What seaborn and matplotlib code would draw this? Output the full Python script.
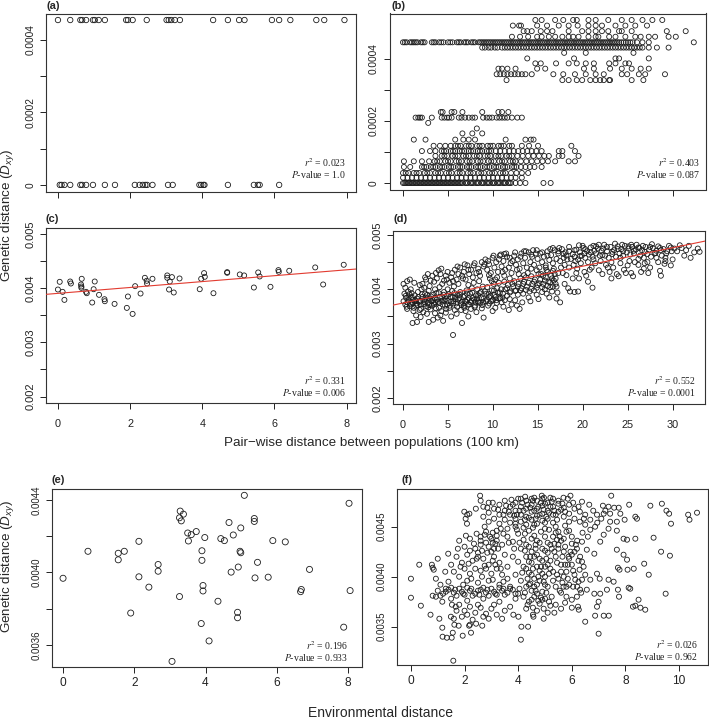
from __future__ import annotations

import matplotlib

matplotlib.use("Agg")
import matplotlib.pyplot as plt
import pandas as pd
import seaborn as sns

W, H = 709, 720

# (a) pair-wise distance vs Dxy, two discrete levels
a_level_top = 0.000455
a_top_x = [0.0, 0.34, 0.62, 0.67, 0.78, 0.97, 1.02, 1.13, 1.30, 1.89, 1.94, 2.07, 2.46, 3.01,
           3.07, 3.14, 3.24, 3.38, 4.30, 4.71, 5.02, 5.17, 5.93, 6.13, 6.44, 7.16, 7.38, 7.94]
a_bottom_x = [0.05, 0.10, 0.18, 0.34, 0.62, 0.67, 0.78, 0.97, 1.30, 1.58, 2.13, 2.26, 2.35, 2.42,
              2.47, 2.62, 3.05, 3.18, 3.92, 3.97, 4.03, 4.06, 4.71, 5.43, 5.54, 5.59, 6.13]

# (b) Dxy levels and the distances observed at each level
b_rows = [
    (0.000526, [14.7, 15.4, 16.9, 17.8, 18.9, 19.3, 20.6, 21.4, 22.8, 24.3, 25.4, 26.6, 27.7, 28.8]),
    (0.000508, [12.2, 12.9, 13.1, 14.9, 16.0, 17.3, 18.4, 19.4, 20.6, 21.4, 22.1, 23.6, 24.7, 25.8, 27.1]),
    (0.000490, [13.4, 13.8, 14.3, 15.3, 16.0, 16.6, 18.4, 19.9, 20.6, 21.4, 22.1, 22.8, 24.0, 24.3,
                25.4, 29.3, 31.4]),
    (0.000472, [12.1, 13.0, 13.9, 14.9, 15.4, 16.2, 16.9, 17.7, 18.4, 18.9, 19.5, 20.6, 21.4, 21.7,
                22.9, 23.6, 24.7, 25.8, 26.4, 27.3, 28.0, 29.5, 30.3]),
    (0.000454, [0.0, 0.4, 0.8, 1.2, 1.6, 2.0, 2.4, 3.2, 3.6, 4.0, 4.5, 5.0, 5.5, 6.0, 6.4, 6.8, 7.2,
                7.6, 8.0, 8.4, 8.8, 9.2, 9.6, 10.0, 10.4, 10.8, 11.2, 11.6, 12.0, 12.4, 12.8, 13.2,
                13.6, 14.0, 14.4, 14.8, 15.2, 15.6, 16.0, 16.4, 16.8, 17.2, 17.6, 18.0, 18.4, 18.8,
                19.2, 19.6, 20.0, 20.4, 20.8, 21.2, 21.6, 22.0, 22.4, 22.8, 23.2, 23.6, 24.0, 24.5,
                25.0, 25.5, 26.0, 26.6, 27.3, 32.3]),
    (0.000454, [0.2, 1.0, 1.4, 2.2, 3.4, 4.25, 5.25, 6.2, 7.0, 7.8, 8.6, 9.0, 9.4, 9.8, 10.2, 10.6,
                11.0, 11.4, 11.8, 12.2, 12.6, 13.0, 13.4, 13.8, 14.2, 14.6, 15.0, 15.4, 15.8, 16.2,
                16.6, 17.0, 17.4, 17.8, 18.2, 18.6, 19.0, 19.4, 19.8, 20.2, 20.6, 21.0, 21.4, 21.8,
                22.2, 22.6, 23.0, 23.4, 23.8, 24.25, 24.75, 25.25]),
    (0.000437, [8.8, 9.5, 10.2, 11.0, 11.6, 12.2, 12.8, 13.4, 14.0, 14.6, 15.2, 15.8, 16.4, 17.0,
                17.6, 18.2, 18.8, 19.4, 20.0, 20.6, 21.2, 21.8, 22.4, 23.0, 23.6, 24.2, 24.8, 25.4,
                26.0, 26.6, 27.3, 28.2, 29.5]),
    (0.000437, [9.1, 9.8, 10.5, 11.3, 11.9, 12.5, 13.1, 13.7, 14.3, 14.9, 15.5, 16.1, 16.7, 17.3,
                17.9, 18.5, 19.1, 19.7, 20.3, 20.9, 21.5, 22.1, 22.7, 23.3, 23.9, 24.5, 25.1, 25.7,
                26.3]),
    (0.000420, [17.9, 20.3, 25.6]),
    (0.000402, [13.8, 19.0, 23.6, 24.0, 27.3]),
    (0.000386, [14.7, 15.3, 17.0, 18.4, 19.3, 20.3, 21.2, 22.9, 23.6, 24.7, 25.1]),
    (0.000369, [10.6, 11.0, 11.6, 12.5, 14.9, 15.8, 20.1, 21.2, 23.0, 24.3, 25.4, 26.4, 27.3]),
    (0.000351, [10.4, 10.8, 11.2, 11.6, 12.0, 12.4, 12.8, 13.2, 13.6, 14.3, 16.7, 17.8, 19.1, 20.3,
                21.4, 22.3, 24.3, 24.9, 26.2, 26.9, 29.1]),
    (0.000332, [11.5, 17.7, 18.4, 19.3, 19.9, 20.8, 21.4, 21.9, 22.3, 22.9, 23.0, 25.4, 26.7]),
    (0.000229, [4.2, 4.4, 5.4, 5.7, 6.6, 8.8, 10.6, 11.0, 11.7]),
    (0.000211, [1.4, 1.7, 2.1, 3.2, 4.3, 4.9, 5.4, 6.2, 6.9, 7.7, 8.0, 8.9, 9.3, 9.9, 10.4, 11.0,
                11.6, 12.1, 12.7, 13.2, 1.9, 4.6, 5.1, 6.5, 7.3, 9.6, 10.7, 11.3]),
    (0.000194, [2.8]),
    (0.000176, [8.2]),
    (0.000160, [6.6, 7.7, 8.8]),
    (0.000140, [1.2, 2.5, 5.8, 6.7, 7.3, 8.0, 11.4, 13.6, 14.2, 14.5]),
    (0.000120, [3.4, 4.1, 4.7, 5.3, 5.8, 6.4, 7.0, 7.6, 8.2, 8.8, 9.4, 10.0, 10.6, 11.2, 11.8, 12.1,
                13.2, 14.0, 15.0, 18.7, 6.1, 7.3, 8.5, 9.7, 10.9]),
    (0.000103, [2.1, 3.0, 3.6, 4.3, 4.8, 5.3, 5.8, 6.3, 6.8, 7.3, 7.8, 8.3, 8.8, 9.3, 9.8, 10.3,
                10.8, 11.3, 11.8, 12.3, 12.8, 13.3, 13.8, 14.3, 14.8, 15.4, 17.3, 17.7, 19.1,
                4.55, 5.55, 6.55, 7.55, 8.55, 9.55]),
    (0.0000873, [3.6, 4.3, 4.9, 5.5, 6.1, 6.7, 7.3, 7.9, 8.5, 9.1, 9.7, 10.3, 10.9, 11.5, 12.1,
                 12.7, 13.3, 13.9, 14.5, 15.1, 15.7, 16.2, 17.3, 17.7, 19.5,
                 4.6, 5.8, 7.0, 8.2, 9.4, 10.6, 11.8]),
    (0.0000700, [0.1, 1.2, 2.1, 2.9, 3.5, 4.1, 4.7, 5.3, 5.9, 6.5, 7.1, 7.7, 8.3, 8.9, 9.5, 10.1,
                 10.7, 11.3, 11.9, 12.5, 13.1, 13.7, 14.3, 14.9, 15.5, 16.1, 16.9, 18.4, 19.1,
                 3.8, 5.0, 6.2, 7.4, 8.6, 9.8, 11.0, 12.2]),
    (0.0000517, [0.1, 0.8, 2.1, 2.6, 3.1, 3.6, 4.1, 4.6, 5.1, 5.6, 6.1, 6.6, 7.1, 7.6, 8.1, 8.6,
                 9.1, 9.6, 10.1, 10.6, 11.1, 11.6, 12.1, 12.6, 13.1, 13.6, 14.1, 14.6, 15.4,
                 2.35, 3.35, 4.35, 5.35, 6.35, 7.35, 8.35, 9.35, 10.35, 11.35, 12.35]),
    (0.0000323, [0.0, 0.6, 1.2, 1.8, 2.4, 3.0, 3.6, 4.2, 4.8, 5.4, 6.0, 6.6, 7.2, 7.8, 8.4, 9.0,
                 9.6, 10.2, 10.8, 11.4, 12.0, 12.6, 13.2, 13.9,
                 0.3, 1.5, 2.7, 3.9, 5.1, 6.3, 7.5, 8.7, 9.9, 11.1]),
    (0.0000172, [0.0, 0.5, 1.0, 1.5, 2.0, 2.5, 3.0, 3.5, 4.0, 4.5, 5.0, 5.5, 6.0, 6.5, 7.0, 7.5,
                 8.0, 8.5, 9.0, 9.5, 10.0, 10.5, 11.0, 11.5, 12.0, 12.5, 13.2]),
    (0.0, [0.0, 0.3, 0.6, 0.9, 1.2, 1.5, 1.8, 2.1, 2.4, 2.7, 3.0, 3.3, 3.6, 3.9, 4.2, 4.5, 4.8,
           5.1, 5.4, 5.7, 6.0, 6.3, 6.6, 6.9, 7.2, 7.5, 7.8, 8.1, 8.4, 8.7, 9.0, 9.3, 9.6, 9.9,
           10.2, 10.5, 10.8, 11.1, 11.4, 11.7, 12.0, 12.5, 13.0, 13.6, 15.6, 16.4]),
    (0.0, [0.15, 0.45, 0.75, 1.05, 1.35, 1.65, 1.95, 2.25, 2.55, 2.85, 3.15, 3.45, 3.75, 4.05,
           4.35, 4.65, 4.95, 5.25, 5.55, 5.85, 6.15, 6.45, 7.05, 7.65, 8.25, 8.85, 9.45, 10.05,
           10.65, 11.25, 11.85]),
]

# (c) pair-wise distance (100 km), Dxy
c_points = [
    (0.00, .003975), (0.05, .004117), (0.13, .003932), (0.18, .003784), (0.34, .004123),
    (0.36, .004086), (0.64, .004068), (0.65, .004031), (0.66, .004173), (0.65, .004006),
    (0.78, .003932), (0.80, .003907), (0.95, .003735), (0.99, .003981), (1.02, .004123),
    (1.14, .003877), (1.29, .003796), (1.30, .003759), (1.57, .003710), (1.91, .003636),
    (1.94, .003846), (2.07, .003525), (2.14, .004037), (2.29, .003901), (2.41, .004191),
    (2.46, .004136), (2.47, .004086), (2.62, .004173), (3.03, .004235), (3.03, .004191),
    (3.10, .004123), (3.08, .003975), (3.16, .004204), (3.21, .003920), (3.37, .004179),
    (3.93, .003981), (3.97, .004173), (4.05, .004278), (4.07, .004210), (4.31, .003907),
    (4.69, .004296), (4.69, .004284), (5.04, .004253), (5.16, .004235), (5.43, .004012),
    (5.55, .004290), (5.59, .004216), (5.89, .004025), (6.11, .004333), (6.12, .004302),
    (6.41, .004321), (7.13, .004383), (7.35, .004068), (7.92, .004432),
]

# (d) pair-wise distance (100 km), Dxy
d_points = [
    (0.1, .00410), (0.3, .00403), (0.5, .00415), (0.8, .00418), (0.2, .00392), (0.6, .00396),
    (0.9, .00400), (0.1, .00378), (0.4, .00384), (0.7, .00380), (1.0, .00386), (0.3, .00372),
    (0.8, .00369), (1.1, .00375), (0.5, .00364), (1.2, .00360), (1.0, .00393), (1.3, .00412),
    (1.4, .00380), (1.5, .00370),
    (1.6, .00383), (1.8, .00377), (2.0, .00372), (2.2, .00386), (2.4, .00380), (2.6, .00369),
    (2.8, .00375), (3.0, .00383), (1.7, .00395), (2.1, .00400), (2.5, .00392), (2.9, .00397),
    (1.9, .00362), (2.3, .00358), (2.7, .00355), (3.1, .00363), (1.5, .00352), (2.0, .00349),
    (1.1, .00338), (1.6, .00340), (2.9, .00340), (3.4, .00344), (3.9, .00348), (4.5, .00342),
    (2.2, .00410), (2.6, .00418), (3.0, .00406), (3.3, .00425), (2.8, .00428), (3.5, .00414),
    (2.4, .00403), (1.9, .00408),
    (3.2, .00378), (3.5, .00372), (3.8, .00381), (4.1, .00375), (4.4, .00385), (4.7, .00370),
    (5.0, .00379), (5.3, .00386), (5.6, .00374), (5.9, .00382), (3.4, .00390), (3.7, .00365),
    (4.0, .00393), (4.3, .00360), (4.6, .00395), (4.9, .00388), (5.2, .00366), (5.5, .00397),
    (5.8, .00362), (6.1, .00390), (3.6, .00356), (4.2, .00352), (4.8, .00357), (5.4, .00350),
    (6.0, .00355), (3.6, .00400), (4.1, .00404), (5.0, .00400), (5.7, .00405),
    (3.8, .00420), (4.2, .00428), (4.6, .00416), (5.0, .00432), (5.4, .00422), (5.8, .00436),
    (6.2, .00428), (4.0, .00435), (4.8, .00425), (5.6, .00415), (6.0, .00418), (4.4, .00410),
    (5.2, .00412), (5.6, .00316), (6.6, .00338), (7.3, .00350), (9.0, .00348),
    (6.3, .00384), (6.6, .00377), (6.9, .00388), (7.2, .00381), (7.5, .00392), (7.8, .00384),
    (8.1, .00376), (8.4, .00389), (8.7, .00395), (9.0, .00383), (6.4, .00395), (6.8, .00370),
    (7.1, .00398), (7.4, .00372), (7.7, .00402), (8.0, .00367), (8.3, .00400), (8.6, .00375),
    (8.9, .00405), (6.5, .00362), (7.0, .00360), (7.6, .00364), (8.2, .00358), (8.8, .00365),
    (6.4, .00440), (6.8, .00432), (7.2, .00444), (7.6, .00436), (8.0, .00448), (8.4, .00438),
    (8.8, .00450), (6.6, .00425), (7.0, .00418), (7.4, .00428), (7.8, .00422), (8.2, .00430),
    (8.6, .00425), (9.0, .00442), (6.9, .00446), (7.9, .00412), (8.5, .00415), (6.2, .00410),
    (7.3, .00408),
    (9.3, .00392), (9.6, .00386), (9.9, .00398), (10.2, .00390), (10.5, .00402), (10.8, .00394),
    (11.1, .00385), (11.4, .00400), (11.7, .00408), (12.0, .00396), (9.4, .00404), (9.8, .00378),
    (10.1, .00410), (10.4, .00380), (10.7, .00412), (11.0, .00376), (11.3, .00414), (11.6, .00388),
    (11.9, .00382), (9.5, .00370), (10.3, .00366), (11.2, .00368), (12.1, .00372), (10.0, .00360),
    (11.8, .00362),
    (9.2, .00455), (9.6, .00446), (10.0, .00458), (10.4, .00450), (10.8, .00462), (11.2, .00452),
    (11.6, .00460), (12.0, .00448), (9.4, .00436), (9.8, .00430), (10.2, .00440), (10.6, .00432),
    (11.0, .00442), (11.4, .00436), (11.8, .00440), (9.7, .00420), (10.5, .00422), (11.3, .00425),
    (12.1, .00430), (10.9, .00464), (11.5, .00466), (9.9, .00415),
    (12.3, .00405), (12.6, .00398), (12.9, .00410), (13.2, .00402), (13.5, .00414), (13.8, .00405),
    (14.1, .00396), (14.4, .00410), (14.7, .00418), (15.0, .00408), (12.4, .00415), (12.8, .00390),
    (13.1, .00420), (13.4, .00392), (13.7, .00422), (14.0, .00385), (14.3, .00424), (14.6, .00398),
    (14.9, .00390), (12.5, .00380), (13.3, .00376), (14.2, .00378), (12.7, .00370), (13.0, .00364),
    (12.4, .00462), (12.8, .00455), (13.2, .00466), (13.6, .00458), (14.0, .00468), (14.4, .00460),
    (14.8, .00466), (12.6, .00445), (13.0, .00438), (13.4, .00448), (13.8, .00440), (14.2, .00450),
    (14.6, .00445), (15.0, .00456), (12.2, .00452), (13.9, .00430), (14.9, .00435), (12.9, .00428),
    (13.5, .00470), (14.5, .00472),
    (15.3, .00418), (15.6, .00410), (15.9, .00422), (16.2, .00414), (16.5, .00425), (16.8, .00416),
    (17.1, .00405), (15.4, .00428), (15.8, .00400), (16.1, .00432), (16.4, .00404), (16.7, .00434),
    (17.0, .00420), (15.5, .00395), (16.0, .00392), (16.6, .00396), (17.2, .00394), (17.1, .00383),
    (17.5, .00376), (18.6, .00396), (19.1, .00395), (19.5, .00396), (20.6, .00414), (21.1, .00403),
    (18.0, .00410), (18.4, .00402), (16.3, .00385), (15.1, .00382),
    (15.3, .00466), (15.7, .00460), (16.1, .00470), (16.5, .00463), (16.9, .00472), (17.3, .00466),
    (17.7, .00474), (18.1, .00468), (15.5, .00450), (15.9, .00444), (16.3, .00454), (16.7, .00448),
    (17.1, .00456), (17.5, .00452), (17.9, .00458), (18.3, .00455), (15.2, .00440), (16.0, .00435),
    (16.8, .00438), (17.6, .00440), (18.0, .00445), (16.4, .00474), (17.4, .00476), (15.6, .00425),
    (16.9, .00428), (17.8, .00430), (18.2, .00426), (18.5, .00440),
    (18.5, .00470), (18.9, .00465), (19.3, .00473), (19.7, .00468), (20.1, .00476), (20.5, .00470),
    (20.9, .00477), (21.3, .00471), (21.7, .00475), (18.7, .00456), (19.1, .00460), (19.5, .00455),
    (19.9, .00462), (20.3, .00458), (20.7, .00464), (21.1, .00460), (21.5, .00466), (21.9, .00462),
    (19.0, .00445), (19.8, .00448), (20.6, .00450), (21.4, .00448), (22.0, .00452), (19.4, .00438),
    (20.2, .00432), (21.0, .00440), (21.8, .00435), (20.4, .00425), (19.6, .00420), (22.2, .00428),
    (20.0, .00480), (21.2, .00480), (18.9, .00420), (19.3, .00430),
    (22.3, .00475), (22.7, .00470), (23.1, .00478), (23.5, .00472), (23.9, .00479), (24.3, .00474),
    (24.7, .00480), (25.1, .00475), (25.5, .00478), (25.9, .00473), (22.5, .00462), (22.9, .00458),
    (23.3, .00465), (23.7, .00460), (24.1, .00466), (24.5, .00462), (24.9, .00468), (25.3, .00464),
    (25.7, .00466), (22.6, .00445), (23.4, .00440), (24.2, .00448), (25.0, .00444), (25.8, .00450),
    (23.0, .00432), (23.8, .00428), (24.6, .00436), (25.4, .00430), (24.0, .00424), (25.6, .00424),
    (23.2, .00420), (22.4, .00482), (24.4, .00482),
    (26.2, .00477), (26.6, .00472), (27.0, .00478), (27.4, .00473), (27.8, .00476), (28.2, .00471),
    (28.6, .00476), (29.0, .00474), (29.4, .00470), (26.4, .00462), (26.8, .00458), (27.2, .00465),
    (27.6, .00460), (28.0, .00466), (28.8, .00462), (29.2, .00458), (26.2, .00445), (26.9, .00448),
    (27.5, .00440), (28.4, .00450), (29.1, .00447), (26.5, .00432), (27.3, .00430), (28.6, .00434),
    (30.0, .00455), (30.2, .00475), (30.5, .00470), (31.0, .00476), (31.8, .00480), (32.4, .00468),
    (33.0, .00469), (32.0, .00458), (26.0, .00482), (27.7, .00483), (29.6, .00480),
    # denser lower band
    (0.35, .00388), (0.55, .00376), (0.75, .00391), (0.95, .00372), (1.15, .00381), (1.35, .00389),
    (1.55, .00374), (1.75, .00386), (1.95, .00379), (2.15, .00391), (2.35, .00373), (2.55, .00385),
    (2.75, .00390), (2.95, .00371), (3.15, .00387), (3.35, .00380), (3.55, .00384), (3.75, .00393),
    (3.95, .00377), (4.15, .00386), (4.35, .00379), (4.55, .00390), (4.75, .00382), (4.95, .00372),
    (5.15, .00391), (5.35, .00377), (5.55, .00386), (5.75, .00393), (5.95, .00374), (6.15, .00381),
    (6.35, .00390), (6.55, .00371), (6.75, .00386), (6.95, .00379), (7.15, .00392), (7.35, .00384),
    (7.55, .00376), (7.75, .00394), (7.95, .00381), (8.15, .00389), (8.35, .00378), (8.55, .00393),
    (8.75, .00385), (8.95, .00376), (9.15, .00396), (9.35, .00381), (9.55, .00392), (9.75, .00388),
    (9.95, .00379), (10.15, .00398), (10.35, .00386), (10.55, .00394), (10.75, .00383),
    (10.95, .00400), (11.15, .00392), (11.35, .00380),
    (0.45, .00368), (0.85, .00374), (1.25, .00366), (1.65, .00371), (2.05, .00364), (2.45, .00376),
    (2.85, .00367), (3.25, .00370), (3.65, .00376), (4.05, .00366), (4.45, .00372), (4.85, .00364),
    (5.25, .00370), (5.65, .00378), (6.05, .00368), (6.45, .00374), (6.85, .00366), (7.25, .00372),
    (7.65, .00379), (8.05, .00370), (8.45, .00376), (8.85, .00371), (9.25, .00378), (9.65, .00374),
    (10.05, .00381), (10.45, .00375), (10.85, .00384), (0.65, .00385), (1.45, .00378),
    (2.65, .00381), (3.45, .00375), (4.65, .00379), (5.85, .00385), (7.05, .00377), (8.25, .00383),
    (11.6, .00402), (11.9, .00394), (12.2, .00410), (12.5, .00397), (12.8, .00405), (13.1, .00398),
    (13.4, .00410), (13.7, .00399), (14.0, .00412), (14.3, .00401), (14.6, .00414), (14.9, .00403),
    (15.2, .00411), (15.5, .00404), (15.8, .00416), (16.1, .00406), (16.4, .00413), (16.7, .00405),
    (17.0, .00410),
    # denser upper band
    (9.5, .00452), (10.1, .00462), (10.7, .00455), (11.3, .00465), (11.9, .00458), (12.5, .00468),
    (13.1, .00460), (13.7, .00470), (14.3, .00464), (14.9, .00472), (15.5, .00468), (16.1, .00462),
    (16.7, .00476), (17.3, .00470), (17.9, .00465), (18.5, .00478), (19.1, .00472), (19.7, .00461),
    (20.3, .00474), (20.9, .00468), (21.5, .00479), (22.1, .00471), (22.7, .00478), (23.3, .00469),
    (23.9, .00474), (24.5, .00470), (25.1, .00479), (25.7, .00471), (26.3, .00476), (26.9, .00469),
    (27.5, .00478), (28.1, .00467), (28.7, .00472), (29.3, .00466), (29.9, .00470),
    (25.4, .00482), (26.7, .00480), (28.4, .00479), (29.8, .00477), (30.8, .00481), (31.5, .00472),
    (32.8, .00475), (23.6, .00484), (21.8, .00482), (19.6, .00481),
    (2.5, .00422), (3.1, .00416), (3.7, .00430), (4.3, .00438), (4.9, .00418), (5.5, .00430),
    (6.1, .00442), (6.7, .00420), (7.3, .00436), (7.9, .00444), (8.5, .00432), (9.1, .00446),
    (9.6, .00426), (10.3, .00418), (11.1, .00432), (11.9, .00420), (12.7, .00436), (13.5, .00426),
    (14.3, .00438), (15.1, .00428), (15.9, .00440), (16.6, .00420), (17.3, .00430),
    (18.2, .00462), (19.2, .00452), (20.2, .00466), (21.2, .00455), (22.2, .00463), (23.2, .00450),
    (24.2, .00458), (25.2, .00452), (26.2, .00456), (27.2, .00450), (28.2, .00458), (29.2, .00452),
    (20.8, .00436), (22.8, .00440), (24.8, .00430), (26.8, .00438), (29.8, .00444), (31.3, .00462),
    (28.7, .00425),
]

# (e) environmental distance, Dxy
e_points = [
    (0.00, .003968), (0.70, .004117), (1.55, .004106), (1.55, .004070), (1.72, .004117),
    (2.13, .004172), (2.13, .003976), (1.90, .003776), (2.41, .003919), (2.67, .004044),
    (2.67, .004007), (3.27, .003867), (3.29, .004339), (3.38, .004322), (3.27, .004302),
    (3.32, .004285), (3.50, .004218), (3.60, .004209), (3.52, .004174), (3.74, .004226),
    (3.90, .004120), (3.90, .004067), (3.98, .004193), (3.93, .003928), (3.93, .003898),
    (4.35, .003841), (4.43, .004187), (4.53, .004176), (4.66, .004276), (4.72, .004002),
    (4.78, .004207), (4.92, .004030), (4.97, .004117), (4.99, .004109), (4.99, .004246),
    (5.09, .004426), (4.90, .003780), (4.90, .003750), (5.37, .004298), (5.37, .004282),
    (5.46, .004056), (5.39, .003970), (5.76, .003974), (5.89, .004176), (6.24, .004169),
    (6.69, .003906), (6.67, .003894), (6.92, .004017), (8.03, .004382), (8.06, .003900),
    (3.88, .003718), (4.10, .003622), (3.06, .003509), (7.88, .003698),
]

# (f) environmental distance, Dxy
f_points = [
    (0.0, .00398), (0.0, .00379), (0.31, .00412), (0.37, .00371), (0.73, .00362), (0.78, .00412),
    (0.81, .00409), (0.85, .00407), (1.0, .00418), (0.93, .00398), (1.06, .00358), (1.17, .00349),
    (1.18, .00340), (1.28, .00405), (1.39, .00423), (1.49, .00360), (1.34, .00339), (1.52, .00339),
    (1.56, .00344), (1.58, .00316), (1.62, .00352), (1.78, .00351), (1.93, .00341), (2.24, .00344),
    (2.17, .00351), (2.43, .00353), (2.66, .00351), (0.81, .00381), (0.93, .00380), (1.17, .00375),
    (1.53, .00372), (1.67, .00370), (1.99, .00465), (2.10, .00462), (2.18, .00463), (2.09, .00453),
    (2.04, .00458), (2.58, .00481), (2.60, .00476), (2.42, .00468),
    (4.26, .00480), (4.88, .00481), (4.96, .00479), (5.69, .00479), (5.95, .00481), (6.38, .00475),
    (7.47, .00481), (8.14, .00472), (7.16, .00471), (7.37, .00470), (7.58, .00469), (7.75, .00469),
    (7.19, .00463), (7.43, .00463), (7.97, .00457), (8.37, .00460), (8.43, .00458), (8.93, .00471),
    (9.36, .00473), (9.53, .00466), (9.63, .00463), (9.70, .00453), (10.34, .00462), (10.39, .00457),
    (10.67, .00464), (9.05, .00439), (9.33, .00425), (9.66, .00421), (9.50, .00383), (8.87, .00402),
    (8.70, .00413), (8.31, .00408), (8.06, .00417), (8.08, .00407), (7.72, .00409), (7.78, .00407),
    (7.93, .00422), (7.68, .00427), (7.93, .00438), (8.06, .00437), (8.37, .00438), (7.68, .00446),
    (7.37, .00448), (8.12, .00389), (8.18, .00388), (7.72, .00387), (7.76, .00380), (8.28, .00370),
    (8.37, .00371), (8.56, .00369), (8.74, .00367), (8.49, .00377), (7.00, .00343), (6.50, .00355),
    (6.87, .00361), (7.19, .00361), (7.38, .00361), (6.94, .00370), (7.00, .00375), (6.84, .00383),
    (7.06, .00383), (7.31, .00387), (7.37, .00397), (7.56, .00395), (6.94, .00403), (7.04, .00398),
    (6.38, .00397), (6.31, .00387), (6.23, .00370), (6.26, .00367), (6.00, .00377), (6.00, .00369),
    (6.56, .00427), (6.84, .00423), (7.06, .00435), (7.19, .00442), (6.29, .00407), (6.38, .00415),
    (6.19, .00428), (4.10, .00337), (4.12, .00350), (4.37, .00350), (3.82, .00362), (4.01, .00360),
    (4.57, .00360),
    (6.69, .00457), (6.94, .00462), (6.69, .00447), (7.43, .00455), (7.68, .00455), (7.81, .00463),
    (6.87, .00450), (6.00, .00433), (6.38, .00435), (5.88, .00420), (6.31, .00420), (5.75, .00412),
    (6.44, .00410), (6.13, .00397), (5.69, .00390), (6.19, .00380), (6.56, .00387), (6.69, .00397),
    (6.50, .00402),
    (2.7, .00470), (2.7, .00460), (2.9, .00474), (2.9, .00464), (2.9, .00455), (3.1, .00468),
    (3.1, .00458), (3.3, .00472), (3.3, .00462), (3.3, .00453), (3.5, .00476), (3.5, .00466),
    (3.5, .00457), (3.7, .00470), (3.7, .00462), (3.7, .00454), (3.9, .00474), (3.9, .00466),
    (3.9, .00458), (3.9, .00450), (4.1, .00470), (4.1, .00462), (4.1, .00455), (4.3, .00476),
    (4.3, .00468), (4.3, .00460), (4.3, .00452), (4.5, .00472), (4.5, .00465), (4.5, .00457),
    (4.7, .00476), (4.7, .00468), (4.7, .00461), (4.7, .00453), (4.9, .00471), (4.9, .00463),
    (4.9, .00456), (5.1, .00474), (5.1, .00466), (5.1, .00458), (5.3, .00470), (5.3, .00462),
    (5.3, .00454), (5.5, .00473), (5.5, .00465), (5.7, .00469), (5.7, .00460), (5.9, .00472),
    (5.9, .00463), (5.9, .00455), (6.1, .00468), (6.1, .00458), (6.3, .00465), (6.3, .00455),
    (6.5, .00462), (6.5, .00452), (6.8, .00466), (7.1, .00458), (4.0, .00478), (4.6, .00479),
    (5.2, .00479), (3.6, .00448), (4.4, .00446), (5.0, .00448),
    (2.8, .00445), (3.0, .00438), (3.2, .00446), (3.4, .00432), (3.6, .00440), (3.8, .00435),
    (4.0, .00443), (4.2, .00437), (4.4, .00430), (4.6, .00441), (4.8, .00434), (5.0, .00440),
    (5.2, .00432), (5.4, .00444), (5.6, .00436), (5.8, .00445), (6.0, .00440), (2.6, .00432),
    (3.1, .00428), (4.5, .00425), (5.5, .00428),
    (1.8, .00436), (2.0, .00430), (2.2, .00438), (2.4, .00428), (2.6, .00440), (2.8, .00434),
    (3.0, .00425), (3.2, .00436), (1.7, .00420), (1.9, .00414), (2.1, .00422), (2.3, .00416),
    (2.5, .00424), (2.7, .00418), (2.9, .00412), (3.1, .00420), (3.3, .00414), (3.5, .00422),
    (1.6, .00405), (1.8, .00400), (2.0, .00408), (2.2, .00403), (2.4, .00408), (2.6, .00406),
    (2.8, .00408), (3.0, .00403), (3.2, .00408), (3.4, .00402), (2.1, .00396), (2.5, .00394),
    (2.9, .00396), (3.3, .00392), (3.6, .00398), (1.5, .00412), (1.4, .00395), (1.3, .00388),
    (1.1, .00392),
    (1.0, .00386), (1.2, .00383), (1.4, .00387), (1.6, .00384), (1.8, .00388), (2.0, .00382),
    (2.2, .00386), (2.4, .00383), (2.6, .00387), (2.8, .00384), (3.0, .00388), (3.2, .00382),
    (3.4, .00386), (3.6, .00384), (3.8, .00387), (4.0, .00383), (1.5, .00378), (2.1, .00376),
    (2.7, .00378), (3.3, .00375), (3.9, .00378),
    (1.8, .00372), (2.0, .00366), (2.2, .00370), (2.4, .00364), (2.6, .00369), (2.8, .00363),
    (3.0, .00368), (1.9, .00360), (2.3, .00357), (2.9, .00358), (3.2, .00362), (3.5, .00366),
    (3.7, .00370),
    (4.1, .00428), (4.3, .00420), (4.5, .00414), (4.7, .00422), (4.9, .00416), (5.1, .00424),
    (4.2, .00410), (4.4, .00404), (4.6, .00398), (4.8, .00406), (5.0, .00400), (5.2, .00408),
    (4.0, .00415), (4.1, .00396), (4.3, .00390), (4.5, .00386), (4.7, .00392), (4.9, .00385),
    (5.1, .00390), (5.3, .00396), (4.2, .00380), (4.4, .00375), (4.6, .00380), (4.8, .00373),
    (5.0, .00378), (5.2, .00371), (4.3, .00368), (4.7, .00366), (5.1, .00364), (5.4, .00372),
    (5.6, .00368), (3.9, .00402), (3.8, .00420), (3.6, .00410), (3.7, .00390),
    (5.3, .00440), (5.5, .00432), (5.7, .00425), (5.9, .00418), (5.4, .00420), (5.6, .00412),
    (5.8, .00405), (6.0, .00412), (5.3, .00405), (5.5, .00398), (5.7, .00400), (5.9, .00392),
    (6.1, .00402), (5.4, .00390), (5.6, .00384), (5.8, .00380), (6.2, .00390), (6.1, .00425),
    (6.2, .00436), (6.4, .00444), (6.6, .00440), (5.2, .00416), (5.0, .00410),
    # denser cores
    (3.55, .00471), (3.75, .00477), (3.85, .00461), (4.05, .00466), (4.15, .00474), (4.25, .00457),
    (4.45, .00469), (4.55, .00476), (4.65, .00458), (4.85, .00474), (4.95, .00467), (5.05, .00460),
    (5.25, .00475), (5.35, .00466), (5.45, .00457), (5.65, .00473), (5.75, .00465), (5.85, .00478),
    (3.45, .00462), (3.25, .00467), (3.05, .00474), (2.85, .00469), (6.05, .00474), (6.25, .00470),
    (6.45, .00458), (6.65, .00472), (6.95, .00454), (7.25, .00466),
    (3.65, .00465), (3.8, .00472), (3.95, .00462), (4.1, .00478), (4.2, .00466), (4.35, .00472),
    (4.4, .00459), (4.6, .00466), (4.75, .00470), (4.8, .00462), (5.0, .00473), (5.15, .00464),
    (5.2, .00470), (5.4, .00462), (5.5, .00476), (5.6, .00467), (4.5, .00478), (4.9, .00478),
    (5.3, .00478), (3.9, .00453), (4.2, .00449), (4.6, .00452), (5.0, .00454), (5.4, .00450),
    (2.75, .00450), (3.05, .00444), (3.35, .00448), (3.65, .00434), (3.95, .00447), (4.25, .00443),
    (4.55, .00449), (4.85, .00445), (5.15, .00447), (5.45, .00437), (5.75, .00451), (3.15, .00433),
    (3.85, .00428), (4.65, .00432), (5.35, .00425),
    (1.75, .00428), (2.05, .00441), (2.35, .00433), (2.65, .00426), (2.95, .00440), (3.25, .00428),
    (3.45, .00443), (1.85, .00410), (2.15, .00413), (2.45, .00418), (2.75, .00411), (3.05, .00416),
    (3.35, .00408), (2.25, .00398), (2.65, .00400), (3.05, .00397), (3.45, .00395), (1.95, .00392),
    (2.45, .00443), (2.6, .00436), (2.75, .00442), (2.9, .00430), (3.05, .00434), (3.2, .00441),
    (2.2, .00426), (2.5, .00420), (2.85, .00424), (3.15, .00412),
    (1.1, .00381), (1.3, .00385), (1.5, .00389), (1.7, .00381), (1.9, .00385), (2.1, .00389),
    (2.3, .00381), (2.5, .00386), (2.7, .00389), (2.9, .00381), (3.1, .00385), (3.3, .00389),
    (3.5, .00382), (3.7, .00388), (3.9, .00383),
    (1.65, .00387), (1.95, .00383), (2.25, .00388), (2.55, .00382), (2.85, .00387), (3.15, .00383),
    (3.45, .00388),
    (1.7, .00366), (2.1, .00362), (2.5, .00372), (2.7, .00360), (3.1, .00372), (3.4, .00358),
    (1.6, .00358), (2.2, .00352),
    (4.05, .00434), (4.25, .00426), (4.45, .00420), (4.65, .00428), (4.85, .00410), (5.05, .00418),
    (5.25, .00428), (4.15, .00404), (4.35, .00398), (4.55, .00408), (4.75, .00400), (4.95, .00395),
    (5.15, .00403), (4.05, .00388), (4.25, .00384), (4.45, .00393), (4.65, .00386), (4.85, .00379),
    (5.05, .00384), (5.25, .00380), (4.35, .00372), (4.55, .00369), (4.75, .00376), (4.95, .00368),
    (5.15, .00375), (4.55, .00362), (4.95, .00358), (5.35, .00364),
    (4.3, .00432), (4.5, .00438), (4.7, .00436), (4.9, .00428), (5.1, .00434), (4.4, .00415),
    (4.6, .00420), (4.8, .00418), (5.0, .00426), (4.3, .00408), (4.5, .00402), (4.7, .00410),
    (4.9, .00403), (5.1, .00412), (4.4, .00392), (4.6, .00390), (4.8, .00396), (5.0, .00392),
    (4.5, .00377), (4.7, .00383), (4.9, .00377),
    (5.35, .00433), (5.55, .00440), (5.75, .00430), (5.95, .00425), (6.15, .00432), (5.45, .00414),
    (5.65, .00420), (5.85, .00412), (6.05, .00406), (6.25, .00416), (5.45, .00402), (5.65, .00394),
    (5.85, .00398), (6.05, .00390), (5.55, .00386), (5.75, .00374), (6.25, .00395), (6.35, .00384),
    (5.5, .00445), (5.7, .00438), (5.9, .00446), (6.0, .00422), (5.6, .00405), (5.8, .00390),
]

r2_values = ["0.023", "0.403", "0.331", "0.552", "0.196", "0.026"]
p_values = ["1.0", "0.087", "0.006", "0.0001", "0.933", "0.962"]
panel_names = ["(a)", "(b)", "(c)", "(d)", "(e)", "(f)"]

EDGE = "#1c1c1c"
RED = "#e23b30"


def to_frame(pairs):
    return pd.DataFrame(pairs, columns=["x", "y"])


def fig_xy(px, py):
    return px / W, 1 - py / H


def make_axes(fig, left, right, top, bottom):
    x0, y0 = fig_xy(left, bottom)
    return fig.add_axes([x0, y0, (right - left) / W, (bottom - top) / H])


def circles(ax, df, size=13):
    sns.scatterplot(data=df, x="x", y="y", ax=ax, s=size, facecolors="none",
                    edgecolor=EDGE, linewidth=0.6, legend=False, zorder=2)


def fit_line(ax, df):
    sns.regplot(data=df, x="x", y="y", ax=ax, scatter=False, ci=None, truncate=False,
                line_kws={"color": RED, "linewidth": 0.8, "zorder": 3})


def style_axes(ax, xlim, ylim, xticks, yticks, ylabels, xlabels=True, xsize=7.8, ysize=7.3, xpad=3):
    ax.set_xlim(xlim)
    ax.set_ylim(ylim)
    ax.set_xticks(xticks)
    ax.set_xticklabels([f"{t:g}" for t in xticks] if xlabels else [])
    ax.set_yticks(yticks)
    ax.set_yticklabels(ylabels, rotation=90, va="center")
    ax.set_xlabel("")
    ax.set_ylabel("")
    ax.tick_params(axis="x", labelsize=xsize, length=4.5, width=0.7, pad=xpad, colors="#222")
    ax.tick_params(axis="y", labelsize=ysize, length=4.5, width=0.7, pad=3, colors="#222")
    for spine in ax.spines.values():
        spine.set_visible(True)
        spine.set_linewidth(0.8)
        spine.set_color("#333")


def stat_text(fig, px, py, r2, pval):
    kw = dict(ha="right", va="center", fontsize=7, family="Liberation Serif",
              math_fontfamily="stix", color="#222")
    fig.text(*fig_xy(px, py), f"$r^2$ = {r2}", **kw)
    fig.text(*fig_xy(px, py + 11.5), f"$P$-value = {pval}", **kw)


def main() -> None:
    sns.set_style("ticks")
    plt.rcParams["font.family"] = ["Liberation Sans", "DejaVu Sans"]
    plt.rcParams["mathtext.fontset"] = "custom"
    plt.rcParams["mathtext.rm"] = "Liberation Sans"
    plt.rcParams["mathtext.it"] = "Liberation Sans:italic"

    fig = plt.figure(figsize=(W / 100, H / 100), dpi=100)
    fig.patch.set_facecolor("white")

    # (a)
    a_df = to_frame([(x, a_level_top) for x in a_top_x] + [(x, 0.0) for x in a_bottom_x])
    ax_a = make_axes(fig, 45.7, 356, 13.5, 191.5)
    circles(ax_a, a_df, size=15)
    y4 = [0, 0.0001, 0.0002, 0.0003, 0.0004]
    style_axes(ax_a, (-0.34, 8.26), (-0.0000182, 0.000473), [0, 2, 4, 6, 8], y4,
               ["0", "", "0.0002", "", "0.0004"], xlabels=False)

    # (b)
    b_df = to_frame([(x, level) for level, xs in b_rows for x in xs])
    ax_b = make_axes(fig, 389.5, 705.5, 13.5, 189.5)
    circles(ax_b, b_df)
    style_axes(ax_b, (-1.5, 33.6), (-0.000021, 0.000547), [0, 5, 10, 15, 20, 25, 30], y4,
               ["0", "", "0.0002", "", "0.0004"], xlabels=False)

    y5 = [0.002, 0.0025, 0.003, 0.0035, 0.004, 0.0045, 0.005]
    y5_labels = ["0.002", "", "0.003", "", "0.004", "", "0.005"]

    # (c)
    c_df = to_frame(c_points)
    ax_c = make_axes(fig, 46, 356, 227.5, 403)
    ax_c.set_xlim(-0.33, 8.26)
    fit_line(ax_c, c_df)
    circles(ax_c, c_df)
    style_axes(ax_c, (-0.33, 8.26), (0.00188, 0.00512), [0, 2, 4, 6, 8], y5, y5_labels,
               ysize=8, xpad=7)

    # (d)
    d_df = to_frame(d_points)
    ax_d = make_axes(fig, 393, 705, 231, 404)
    ax_d.set_xlim(-1.07, 33.6)
    fit_line(ax_d, d_df)
    circles(ax_d, d_df)
    style_axes(ax_d, (-1.07, 33.6), (0.00189, 0.005073), [0, 5, 10, 15, 20, 25, 30], y5, y5_labels,
               ysize=8, xpad=7)

    # (e)
    e_df = to_frame(e_points)
    ax_e = make_axes(fig, 52, 361.5, 489, 667)
    circles(ax_e, e_df, size=19)
    style_axes(ax_e, (-0.31, 8.38), (0.003478, 0.004461), [0, 2, 4, 6, 8],
               [0.0036, 0.0038, 0.0040, 0.0042, 0.0044], ["0.0036", "", "0.0040", "", "0.0044"],
               xsize=8.6, ysize=7)

    # (f)
    f_df = to_frame(f_points)
    ax_f = make_axes(fig, 397, 708, 489, 665)
    circles(ax_f, f_df)
    style_axes(ax_f, (-0.52, 11.08), (0.003117, 0.004877), [0, 2, 4, 6, 8, 10],
               [0.0035, 0.0040, 0.0045], ["0.0035", "0.0040", "0.0045"], xsize=8.6, ysize=7)

    # panel letters
    for name, (px, py) in zip(panel_names, [(47, 6), (392, 6), (46, 219), (393, 219), (52, 480), (401, 480)]):
        fig.text(*fig_xy(px, py), name, ha="left", va="center", fontsize=8, fontweight="bold")

    # r2 / P-value
    stat_pos = [(346, 163), (700, 163), (346, 381), (696, 381), (348, 646), (698, 645)]
    for (px, py), r2, pval in zip(stat_pos, r2_values, p_values):
        stat_text(fig, px, py, r2, pval)

    # axis titles
    fig.text(*fig_xy(371, 443), "Pair\u2212wise distance between populations (100 km)",
             ha="center", va="center", fontsize=9.6)
    fig.text(*fig_xy(380, 713), "Environmental distance", ha="center", va="center", fontsize=10)
    for py in (216, 567):
        fig.text(*fig_xy(8, py), "Genetic distance ($D_{xy}$)", rotation=90,
                 ha="center", va="center", fontsize=9.6)

    fig.savefig("out.png", dpi=100)
    plt.close(fig)


if __name__ == "__main__":
    main()
